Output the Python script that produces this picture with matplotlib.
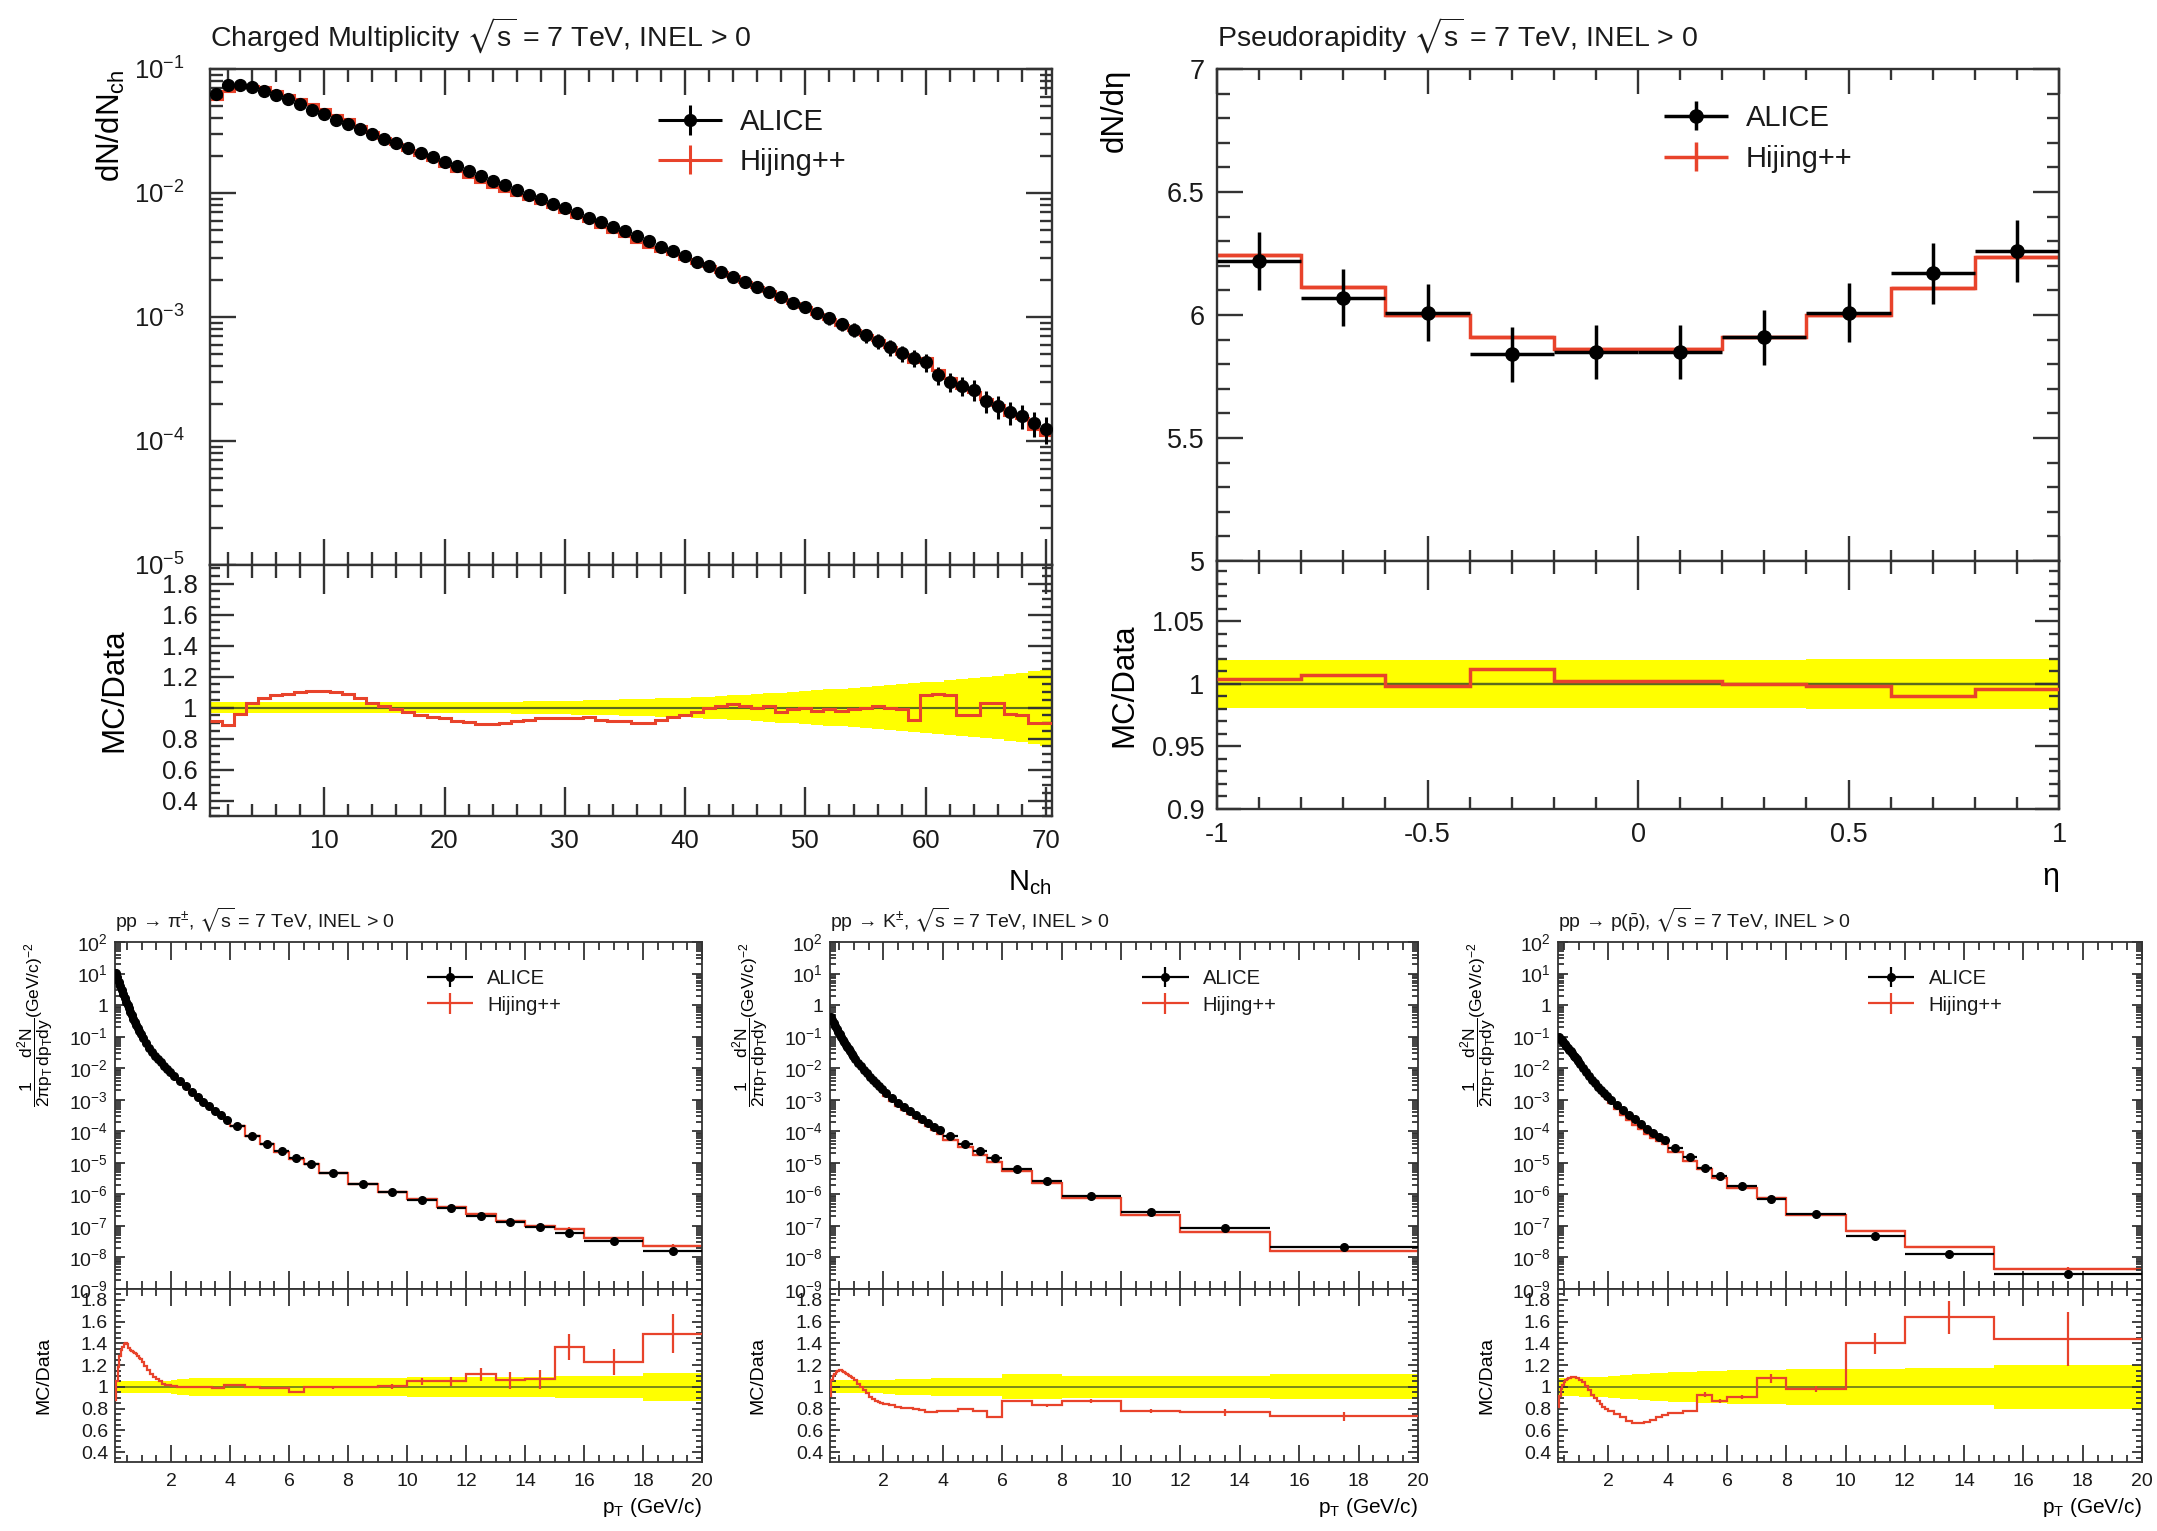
import numpy as np
import matplotlib
matplotlib.use('Agg')
import matplotlib.pyplot as plt
from matplotlib.ticker import MultipleLocator, LogLocator, FuncFormatter, NullFormatter
from matplotlib.legend_handler import HandlerErrorbar
from matplotlib.container import ErrorbarContainer

plt.rcParams['font.family'] = ['Liberation Sans', 'DejaVu Sans']
plt.rcParams['mathtext.fontset'] = 'custom'
plt.rcParams['mathtext.rm'] = 'Liberation Sans'
plt.rcParams['mathtext.it'] = 'Liberation Sans:italic'
plt.rcParams['mathtext.bf'] = 'Liberation Sans:bold'
plt.rcParams['mathtext.default'] = 'regular'
plt.rcParams['mathtext.fallback'] = 'stixsans'
plt.rcParams['axes.unicode_minus'] = False
plt.rcParams['axes.axisbelow'] = False

# ---------------- data ----------------
# charged multiplicity, bins of width 1 centred on N_ch = 1..70
nch_edges = np.arange(0.5, 71.0, 1.0)
nch_data = [0.063, 0.074, 0.074, 0.071, 0.067, 0.062, 0.057, 0.052, 0.047, 0.043,
            0.039, 0.036, 0.033, 0.030, 0.0275, 0.0252, 0.0231, 0.0212, 0.0195, 0.0179,
            0.0164, 0.0150, 0.0137, 0.0126, 0.0115, 0.0106, 0.0097, 0.0089, 0.0082, 0.0075,
            0.0069, 0.0063, 0.0058, 0.0053, 0.0049, 0.0045, 0.0041, 0.0037, 0.0034, 0.0031,
            0.0028, 0.0026, 0.0023, 0.0021, 0.0019, 0.00175, 0.0016, 0.00145, 0.0013, 0.0012,
            0.00108, 0.00098, 0.00088, 0.00079, 0.00071, 0.00064, 0.00057, 0.00051, 0.00047, 0.00043,
            0.00034, 0.00030, 0.00028, 0.00026, 0.00021, 0.00019, 0.00017, 0.00016, 0.00014, 0.000125]
nch_ratio = [0.91, 0.89, 0.96, 1.03, 1.06, 1.08, 1.09, 1.10, 1.105, 1.105,
             1.10, 1.09, 1.06, 1.03, 1.01, 0.99, 0.97, 0.955, 0.94, 0.93,
             0.915, 0.905, 0.895, 0.895, 0.90, 0.91, 0.92, 0.93, 0.935, 0.935,
             0.93, 0.94, 0.92, 0.915, 0.91, 0.90, 0.90, 0.92, 0.94, 0.95,
             0.97, 1.00, 1.01, 1.02, 1.01, 1.00, 1.01, 0.97, 0.99, 1.00,
             0.98, 0.99, 0.98, 0.99, 1.00, 1.01, 1.00, 0.99, 0.92, 1.08,
             1.09, 1.08, 0.95, 0.95, 1.03, 1.03, 0.96, 0.95, 0.90, 0.90]
nch_band = [0.035] * 20 + [0.036, 0.036, 0.037, 0.037, 0.038, 0.039, 0.040, 0.041, 0.042, 0.043,
                           0.045, 0.047, 0.049, 0.051, 0.053, 0.055, 0.057, 0.059, 0.061, 0.063,
                           0.067, 0.071, 0.075, 0.079, 0.083, 0.087, 0.092, 0.097, 0.102, 0.107,
                           0.112, 0.117, 0.122, 0.127, 0.132, 0.138, 0.144, 0.150, 0.156, 0.162,
                           0.168, 0.175, 0.182, 0.190, 0.198, 0.205, 0.215, 0.225, 0.235, 0.245]
nch_ratio_err = [0.0] * 70

# pseudorapidity
eta_edges = [-1.0, -0.8, -0.6, -0.4, -0.2, 0.0, 0.2, 0.4, 0.6, 0.8, 1.0]
eta_data = [6.22, 6.07, 6.01, 5.84, 5.85, 5.85, 5.91, 6.01, 6.17, 6.26]
eta_ratio = [1.004, 1.007, 0.998, 1.012, 1.002, 1.002, 1.000, 0.998, 0.990, 0.996]
eta_band = [0.019, 0.019, 0.019, 0.019, 0.019, 0.019, 0.019, 0.020, 0.020, 0.020]
eta_ratio_err = [0.0] * 10

# identified spectra
pi_edges = [0.10, 0.15, 0.20, 0.25, 0.30, 0.35, 0.40, 0.45, 0.50, 0.55, 0.60, 0.65, 0.70,
            0.75, 0.80, 0.85, 0.90, 0.95, 1.0, 1.1, 1.2, 1.3, 1.4, 1.5, 1.6, 1.7, 1.8, 1.9,
            2.0, 2.2, 2.4, 2.6, 2.8, 3.0, 3.2, 3.4, 3.6, 3.8, 4.0, 4.5, 5.0, 5.5, 6.0, 6.5,
            7.0, 8, 9, 10, 11, 12, 13, 14, 15, 16, 18, 20]
pi_data = [10.6, 7.5, 5.3, 3.9, 2.92, 2.18, 1.65, 1.28, 1.0, 0.78, 0.61, 0.475, 0.37,
           0.29, 0.23, 0.186, 0.15, 0.121,
           0.089, 0.063, 0.044, 0.033, 0.025, 0.0195, 0.0152, 0.0120, 0.0096, 0.0078,
           0.0058, 0.0040, 0.0027, 0.0018, 0.00126, 0.00087, 0.00061, 0.00043, 0.00032, 0.00023,
           1.44e-4, 7.3e-5, 4.0e-5, 2.3e-5, 1.4e-5, 8.9e-6,
           4.9e-6, 2.2e-6, 1.15e-6, 6.7e-7, 3.7e-7, 2.1e-7, 1.35e-7, 9.0e-8, 6.0e-8,
           3.4e-8, 1.6e-8]
pi_ratio = [0.88, 1.05, 1.18, 1.28, 1.34, 1.37, 1.39, 1.40, 1.39, 1.36, 1.34, 1.33, 1.32,
            1.31, 1.30, 1.28, 1.27, 1.26,
            1.23, 1.19, 1.16, 1.12, 1.09, 1.07, 1.05, 1.03, 1.02, 1.02,
            1.01, 1.00, 1.00, 1.00, 1.00, 1.00, 1.00, 0.99, 0.99, 1.015,
            1.015, 0.995, 0.99, 0.99, 0.95, 1.00,
            0.995, 1.00, 1.005, 1.05, 1.05, 1.115, 1.06, 1.07, 1.37,
            1.23, 1.49]
pi_ratio_err = [0.0] * 38 + [0.004, 0.004, 0.005, 0.005, 0.006, 0.007,
                             0.01, 0.012, 0.02, 0.03, 0.04, 0.06, 0.08, 0.09, 0.12,
                             0.12, 0.18]
pi_band = [0.055] * 28 + [0.065, 0.07, 0.075, 0.08, 0.085, 0.085, 0.085, 0.085, 0.085, 0.085,
                          0.085, 0.085, 0.085, 0.085, 0.085, 0.085,
                          0.085, 0.085, 0.085, 0.09, 0.09, 0.09, 0.09, 0.09, 0.10,
                          0.10, 0.125]

k_edges = [0.20, 0.25, 0.30, 0.35, 0.40, 0.45, 0.50, 0.55, 0.60, 0.65, 0.70, 0.75, 0.80,
           0.85, 0.90, 0.95, 1.0, 1.1, 1.2, 1.3, 1.4, 1.5, 1.6, 1.7, 1.8, 1.9, 2.0,
           2.2, 2.4, 2.6, 2.8, 3.0, 3.2, 3.4, 3.6, 3.8, 4.0, 4.5, 5.0, 5.5, 6.0,
           7, 8, 10, 12, 15, 20]
k_data = [0.407, 0.327, 0.264, 0.214, 0.175, 0.143, 0.117, 0.097, 0.0805, 0.0671, 0.0562, 0.0473,
          0.0400, 0.0340, 0.0290, 0.0248,
          0.0200, 0.0150, 0.0114, 0.00877, 0.00679, 0.00531, 0.00419, 0.00334, 0.00268, 0.00217,
          0.00162, 0.00112, 0.00079, 0.00058, 0.00043, 0.000324, 0.000245, 0.000186, 0.000141, 0.000107,
          6.9e-5, 3.9e-5, 2.34e-5, 1.45e-5,
          6.3e-6, 2.7e-6, 9.0e-7, 2.8e-7, 8.5e-8, 2.2e-8]
k_ratio = [0.92, 1.06, 1.10, 1.12, 1.14, 1.15, 1.16, 1.16, 1.15, 1.14, 1.13, 1.12,
           1.11, 1.10, 1.09, 1.08,
           1.06, 1.03, 1.00, 0.97, 0.94, 0.91, 0.89, 0.87, 0.86, 0.85,
           0.84, 0.83, 0.82, 0.81, 0.81, 0.80, 0.79, 0.77, 0.77, 0.78,
           0.78, 0.795, 0.78, 0.72,
           0.87, 0.83, 0.87, 0.78, 0.765, 0.73]
k_ratio_err = [0.0] * 36 + [0.004, 0.005, 0.006, 0.007, 0.01, 0.015, 0.015, 0.02, 0.03, 0.04]
k_band = [0.06] * 26 + [0.065, 0.065, 0.07, 0.07, 0.07, 0.075, 0.075, 0.075, 0.08, 0.08,
                        0.08, 0.08, 0.085, 0.085,
                        0.115, 0.115, 0.105, 0.105, 0.105, 0.115]

p_edges = [0.30, 0.35, 0.40, 0.45, 0.50, 0.55, 0.60, 0.65, 0.70, 0.75, 0.80, 0.85, 0.90,
           0.95, 1.0, 1.1, 1.2, 1.3, 1.4, 1.5, 1.6, 1.7, 1.8, 1.9, 2.0,
           2.2, 2.4, 2.6, 2.8, 3.0, 3.2, 3.4, 3.6, 3.8, 4.0, 4.5, 5.0, 5.5, 6.0,
           7, 8, 10, 12, 15, 20]
p_data = [0.098, 0.085, 0.076, 0.066, 0.059, 0.051, 0.045, 0.039, 0.034, 0.030, 0.025,
          0.022, 0.019, 0.0166,
          0.0135, 0.0100, 0.0076, 0.0056, 0.0043, 0.0033, 0.0026, 0.0020, 0.0016, 0.0013,
          0.00098, 0.00066, 0.00046, 0.00033, 0.00024, 0.00017, 0.000117, 8.7e-5, 6.8e-5, 5.2e-5,
          3.0e-5, 1.5e-5, 6.9e-6, 3.8e-6,
          1.8e-6, 6.9e-7, 2.3e-7, 4.8e-8, 1.3e-8, 3.0e-9]
p_ratio = [0.82, 0.92, 0.98, 1.02, 1.045, 1.06, 1.07, 1.08, 1.085, 1.09, 1.09, 1.09, 1.085, 1.08,
           1.065, 1.045, 1.01, 0.97, 0.93, 0.90, 0.87, 0.84, 0.82, 0.80,
           0.78, 0.75, 0.72, 0.69, 0.67, 0.67, 0.68, 0.70, 0.72, 0.74,
           0.757, 0.78, 0.93, 0.87,
           0.91, 1.08, 0.98, 1.40, 1.64, 1.44]
p_ratio_err = [0.0] * 34 + [0.006, 0.01, 0.02, 0.02, 0.02, 0.04, 0.03, 0.10, 0.15, 0.25]
p_band = [0.08] * 14 + [0.09] * 10 + [0.10, 0.105, 0.11, 0.11, 0.115, 0.12, 0.12, 0.125, 0.125, 0.13,
                                       0.14, 0.14, 0.145, 0.15,
                                       0.155, 0.16, 0.165, 0.165, 0.17, 0.20]

RED = '#e8432b'
YELLOW = '#ffff00'
ONE = '#5b6b1e'
FRAME = '#333333'
TXT = '#1a1a1a'

W, H = 2157, 1531
fig = plt.figure(figsize=(W / 100, H / 100), dpi=100)


def rect(l, t, r, b):
    return [l / W, 1 - b / H, (r - l) / W, (b - t) / H]


def log_fmt(v, pos):
    e = int(round(np.log10(v)))
    return '1' if e == 0 else r'$10^{%d}$' % e


lin_fmt = FuncFormatter(lambda v, p: '%g' % round(v, 6))


def draw(ax, rax, edges, data, band, ratio, ratio_err, ms, lw):
    edges = np.asarray(edges, dtype=float)
    x = 0.5 * (edges[1:] + edges[:-1])
    hw = 0.5 * (edges[1:] - edges[:-1])
    data = np.asarray(data); band = np.asarray(band)
    ratio = np.asarray(ratio); rerr = np.asarray(ratio_err)
    mc = data * ratio
    ax.stairs(mc, edges, color=RED, lw=lw, baseline=None, zorder=2)
    hmc = ax.errorbar(x, mc, xerr=hw, yerr=mc * rerr / ratio, fmt='none', ecolor=RED,
                      elinewidth=lw, capsize=0, zorder=2)
    hdat = ax.errorbar(x, data, xerr=hw, yerr=data * band, fmt='o', color='black', ms=ms,
                       elinewidth=lw, capsize=0, zorder=3)
    rax.stairs(1 + band, edges, baseline=1 - band, fill=True, color=YELLOW, lw=0, zorder=1)
    rax.axhline(1, color=ONE, lw=lw * 0.7, zorder=2)
    rax.stairs(ratio, edges, color=RED, lw=lw, baseline=None, zorder=3)
    rax.errorbar(x, ratio, yerr=rerr, fmt='none', ecolor=RED, elinewidth=lw, capsize=0, zorder=3)
    return hdat, hmc


def frame(ax, fs, xl, yl, pad_x, pad_y, tw):
    for s in ax.spines.values():
        s.set_color(FRAME)
        s.set_linewidth(tw)
    ax.tick_params(which='both', direction='in', top=True, right=True, bottom=True, left=True,
                   color=FRAME, width=tw, labelsize=fs, labelcolor=TXT, zorder=6)
    ax.tick_params(axis='x', which='major', length=xl[0], pad=pad_x)
    ax.tick_params(axis='x', which='minor', length=xl[1])
    ax.tick_params(axis='y', which='major', length=yl[0], pad=pad_y)
    ax.tick_params(axis='y', which='minor', length=yl[1])


def legend(ax, hd, hm, x0, y0, fs, hl, ls, tp):
    ax.legend([hd, hm], ['ALICE', 'Hijing++'], loc='upper left', bbox_to_anchor=(x0, y0),
              frameon=False, fontsize=fs, handlelength=hl, handletextpad=tp,
              labelspacing=ls, borderpad=0, borderaxespad=0, labelcolor=TXT,
              handler_map={ErrorbarContainer: HandlerErrorbar(xerr_size=hl / 2, yerr_size=0.5)})


# ---------------- top left: charged multiplicity ----------------
ax1 = fig.add_axes(rect(210, 69, 1052, 565))
rx1 = fig.add_axes(rect(210, 565, 1052, 816), sharex=ax1)
hd, hm = draw(ax1, rx1, nch_edges, nch_data, nch_band, nch_ratio, nch_ratio_err, 8.5, 2.2)
ax1.set_yscale('log')
ax1.set_xlim(0.5, 70.5)
ax1.set_ylim(1e-5, 1e-1)
ax1.yaxis.set_major_locator(LogLocator(base=10, numticks=20))
ax1.yaxis.set_minor_locator(LogLocator(base=10, subs=np.arange(2, 10), numticks=100))
ax1.yaxis.set_major_formatter(FuncFormatter(log_fmt))
ax1.yaxis.set_minor_formatter(NullFormatter())
ax1.xaxis.set_major_locator(MultipleLocator(10))
ax1.xaxis.set_minor_locator(MultipleLocator(2))
frame(ax1, 18.5, (19, 9.5), (19, 9), 10, 18, 1.7)
ax1.tick_params(labelbottom=False)
rx1.set_ylim(0.3, 1.92)
rx1.yaxis.set_major_locator(MultipleLocator(0.2))
rx1.yaxis.set_minor_locator(MultipleLocator(0.05))
rx1.yaxis.set_major_formatter(lin_fmt)
rx1.xaxis.set_major_formatter(lin_fmt)
frame(rx1, 18.5, (21, 9), (17, 7), 9, 9, 1.7)
ax1.set_ylabel('dN/dN$_{\\mathrm{ch}}$', fontsize=22.5, loc='top', va='center')
ax1.yaxis.set_label_coords(-0.1176, 1.0)
rx1.set_ylabel('MC/Data', fontsize=22.5, va='center')
rx1.yaxis.set_label_coords(-0.113, 0.5)
rx1.set_xlabel('N$_{\\mathrm{ch}}$', fontsize=21, loc='right')
rx1.xaxis.set_label_coords(1.0, -0.207)
legend(ax1, hd, hm, 0.532, 0.921, 21, 2.2, 0.4, 0.6)
fig.text(210 / W, 1 - 36 / H, r'Charged Multiplicity $\sqrt{\mathrm{s}}$ = 7 TeV, INEL > 0',
         fontsize=20.5, va='center', ha='left', color=TXT)

# ---------------- top right: pseudorapidity ----------------
ax2 = fig.add_axes(rect(1217, 69, 2059, 561))
rx2 = fig.add_axes(rect(1217, 561, 2059, 809), sharex=ax2)
hd, hm = draw(ax2, rx2, eta_edges, eta_data, eta_band, eta_ratio, eta_ratio_err, 9.5, 2.5)
ax2.set_xlim(-1, 1)
ax2.set_ylim(5, 7)
ax2.yaxis.set_major_locator(MultipleLocator(0.5))
ax2.yaxis.set_minor_locator(MultipleLocator(0.1))
ax2.yaxis.set_major_formatter(lin_fmt)
ax2.xaxis.set_major_locator(MultipleLocator(0.5))
ax2.xaxis.set_minor_locator(MultipleLocator(0.1))
frame(ax2, 19.5, (18, 8), (19, 9), 10, 9, 1.7)
ax2.tick_params(labelbottom=False)
rx2.set_ylim(0.9, 1.098)
rx2.yaxis.set_major_locator(MultipleLocator(0.05))
rx2.yaxis.set_minor_locator(MultipleLocator(0.01))
rx2.yaxis.set_major_formatter(lin_fmt)
rx2.xaxis.set_major_formatter(lin_fmt)
frame(rx2, 19.5, (21, 9), (17, 7), 9, 9, 1.7)
ax2.set_ylabel('dN/d\u03b7', fontsize=22.5, loc='top', va='center')
ax2.yaxis.set_label_coords(-0.122, 1.0)
rx2.set_ylabel('MC/Data', fontsize=22.5, va='center')
rx2.yaxis.set_label_coords(-0.110, 0.5)
rx2.set_xlabel('\u03b7', fontsize=22, loc='right')
rx2.xaxis.set_label_coords(1.0, -0.215)
legend(ax2, hd, hm, 0.531, 0.929, 21, 2.2, 0.45, 0.6)
fig.text(1217 / W, 1 - 36 / H, r'Pseudorapidity $\sqrt{\mathrm{s}}$ = 7 TeV, INEL > 0',
         fontsize=20.5, va='center', ha='left', color=TXT)

# ---------------- bottom row: identified spectra ----------------
spectra = [
    (115, 702, pi_edges, pi_data, pi_band, pi_ratio, pi_ratio_err, 0.1,
     'pp \u2192 $\\pi^{\\pm}$, $\\sqrt{\\mathrm{s}}$ = 7 TeV, INEL > 0'),
    (830, 1418, k_edges, k_data, k_band, k_ratio, k_ratio_err, 0.2,
     'pp \u2192 K$^{\\pm}$, $\\sqrt{\\mathrm{s}}$ = 7 TeV, INEL > 0'),
    (1558, 2142, p_edges, p_data, p_band, p_ratio, p_ratio_err, 0.3,
     'pp \u2192 p($\\bar{\\mathrm{p}}$), $\\sqrt{\\mathrm{s}}$ = 7 TeV, INEL > 0'),
]
for l, r, edges, data, band, ratio, rerr, xmin, title in spectra:
    ax = fig.add_axes(rect(l, 942, r, 1289))
    rx = fig.add_axes(rect(l, 1289, r, 1462), sharex=ax)
    hd, hm = draw(ax, rx, edges, data, band, ratio, rerr, 5.5, 1.6)
    ax.set_yscale('log')
    ax.set_xlim(xmin, 20)
    ax.set_ylim(1e-9, 1e2)
    ax.yaxis.set_major_locator(LogLocator(base=10, numticks=20))
    ax.yaxis.set_minor_locator(LogLocator(base=10, subs=np.arange(2, 10), numticks=100))
    ax.yaxis.set_major_formatter(FuncFormatter(log_fmt))
    ax.yaxis.set_minor_formatter(NullFormatter())
    ax.xaxis.set_major_locator(MultipleLocator(2))
    ax.xaxis.set_minor_locator(MultipleLocator(0.5))
    frame(ax, 14, (13, 6), (7, 4.5), 8, 5, 1.3)
    ax.tick_params(labelbottom=False)
    rx.set_ylim(0.31, 1.9)
    rx.yaxis.set_major_locator(MultipleLocator(0.2))
    rx.yaxis.set_minor_locator(MultipleLocator(0.05))
    rx.yaxis.set_major_formatter(lin_fmt)
    rx.xaxis.set_major_formatter(lin_fmt)
    frame(rx, 14, (12, 5), (7, 4), 8, 5, 1.3)
    ax.set_ylabel(r'$\dfrac{1}{2\pi \mathrm{p_T}}\dfrac{\mathrm{d^2N}}{\mathrm{dp_T dy}}$(GeV/c)$^{-2}$',
                  fontsize=12.5, loc='top', va='center')
    ax.yaxis.set_label_coords(-0.135, 1.0)
    rx.set_ylabel('MC/Data', fontsize=14, va='center')
    rx.yaxis.set_label_coords(-0.122, 0.5)
    rx.set_xlabel('p$_{\\mathrm{T}}$ (GeV/c)', fontsize=15, loc='right')
    rx.xaxis.set_label_coords(1.0, -0.197)
    legend(ax, hd, hm, 0.531, 0.922, 14.5, 2.3, 0.37, 0.7)
    fig.text(l / W, 1 - 920 / H, title, fontsize=14, va='center', ha='left', color=TXT)

fig.savefig('out.png', dpi=100)
